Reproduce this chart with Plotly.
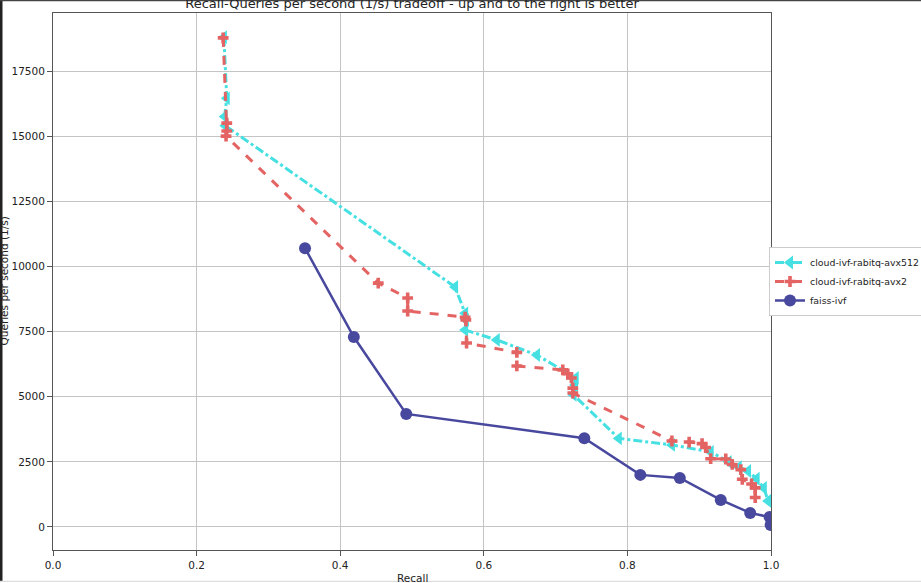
import plotly.graph_objects as go

# ---- data ----
avx512_recall = [0.238, 0.242, 0.239, 0.240, 0.560, 0.574, 0.575, 0.574, 0.618, 0.674,
                 0.728, 0.727, 0.725, 0.788, 0.862, 0.916, 0.941, 0.955, 0.968, 0.980,
                 0.990, 0.996]
avx512_qps = [18800, 16450, 15750, 15400, 9210, 8200, 7950, 7560, 7180, 6600,
              5720, 5450, 5070, 3400, 3150, 2880, 2500, 2300, 2150, 1850,
              1500, 1000]

avx2_recall = [0.237, 0.242, 0.242, 0.241, 0.453, 0.494, 0.494, 0.574, 0.575, 0.576,
               0.646, 0.646, 0.710, 0.717, 0.722, 0.724, 0.724, 0.862, 0.886, 0.904,
               0.909, 0.916, 0.937, 0.946, 0.958, 0.960, 0.973, 0.978, 0.978]
avx2_qps = [18770, 15500, 15200, 15000, 9360, 8790, 8290, 8050, 7950, 7060,
            6700, 6180, 6030, 5880, 5720, 5330, 5140, 3300, 3260, 3200,
            3050, 2620, 2610, 2400, 2200, 1830, 1650, 1500, 1130]

faiss_recall = [0.351, 0.419, 0.492, 0.740, 0.818, 0.873, 0.930, 0.971, 0.998, 0.9995]
faiss_qps = [10700, 7290, 4340, 3410, 2000, 1880, 1040, 540, 380, 80]

y_ticks = [0, 2500, 5000, 7500, 10000, 12500, 15000, 17500]
x_ticks = [0.0, 0.2, 0.4, 0.6, 0.8, 1.0]

title_text = "Recall-Queries per second (1/s) tradeoff - up and to the right is better"
FONT = "DejaVu Sans"

fig = go.Figure()
fig.add_trace(go.Scatter(
    x=avx512_recall, y=avx512_qps, mode="lines+markers", name="cloud-ivf-rabitq-avx512",
    line=dict(color="rgb(70,224,226)", width=3, dash="dashdot"),
    marker=dict(symbol="triangle-left", size=12, color="rgb(70,224,226)"),
))
fig.add_trace(go.Scatter(
    x=avx2_recall, y=avx2_qps, mode="lines+markers", name="cloud-ivf-rabitq-avx2",
    line=dict(color="rgb(228,100,100)", width=3, dash="dash"),
    marker=dict(symbol="cross", size=9, color="rgb(228,100,100)"),
))
fig.add_trace(go.Scatter(
    x=faiss_recall, y=faiss_qps, mode="lines+markers", name="faiss-ivf",
    line=dict(color="rgb(72,72,158)", width=2.5),
    marker=dict(symbol="circle", size=12, color="rgb(72,72,158)"),
))

W, H = 921, 583
L, R, T, B = 53, 150, 13, 33
pw, ph = W - L - R, H - T - B

def px_x(p):
    return (p - L) / pw

def px_y(p):
    return (H - B - p) / ph

fig.update_layout(
    width=W, height=H, autosize=False,
    margin=dict(l=L, r=R, t=T, b=B, autoexpand=False),
    paper_bgcolor="white", plot_bgcolor="white",
    font=dict(family=FONT, size=10.5, color="#222"),
    title=dict(text=title_text, x=0.5 * (L + W - R) / W, xanchor="center",
               y=1 - 3 / H, yanchor="middle", yref="container",
               font=dict(size=13, color="#222")),
    xaxis=dict(range=[0, 1], tickvals=x_ticks, ticktext=[f"{v:.1f}" for v in x_ticks],
               showgrid=True, gridcolor="#c4c4c4", gridwidth=1,
               showline=True, linecolor="#555", linewidth=1, mirror=True,
               ticks="outside", ticklen=5, tickcolor="#555", zeroline=False),
    yaxis=dict(range=[-883, 19726], tickvals=y_ticks, ticktext=[str(v) for v in y_ticks],
               showgrid=True, gridcolor="#c4c4c4", gridwidth=1,
               showline=True, linecolor="#555", linewidth=1, mirror=True,
               ticks="outside", ticklen=5, tickcolor="#555", zeroline=False),
    legend=dict(xref="container", yref="container",
                x=769 / W, y=1 - 281.5 / H, xanchor="left", yanchor="middle",
                bordercolor="#cccccc", borderwidth=1, bgcolor="white",
                font=dict(size=9.4, color="#222"), tracegroupgap=0),
    showlegend=True,
)

fig.add_annotation(text="Recall", xref="paper", yref="paper", x=0.5, y=px_y(578),
                   xanchor="center", yanchor="middle", showarrow=False,
                   font=dict(size=10.5, color="#222"))
fig.add_annotation(text="Queries per second (1/s)", xref="paper", yref="paper",
                   x=px_x(3), y=0.5, textangle=-90, xanchor="center", yanchor="middle",
                   showarrow=False, font=dict(size=10.5, color="#222"))

# screenshot frame edges
fig.add_shape(type="rect", xref="paper", yref="paper", x0=px_x(0), x1=px_x(2.5),
              y0=px_y(581), y1=px_y(0), fillcolor="#222", line=dict(width=0), layer="above")
fig.add_shape(type="rect", xref="paper", yref="paper", x0=px_x(0), x1=px_x(W),
              y0=px_y(1.2), y1=px_y(0), fillcolor="#444", line=dict(width=0), layer="above")
fig.add_shape(type="rect", xref="paper", yref="paper", x0=px_x(0), x1=px_x(W),
              y0=px_y(582), y1=px_y(580.8), fillcolor="#ddd", line=dict(width=0), layer="above")

post = (
    "document.body.style.margin='0';"
    "document.body.style.overflow='hidden';"
)

fig.write_html(
    "out.html",
    config={"responsive": False, "displayModeBar": False},
    post_script=post,
)
